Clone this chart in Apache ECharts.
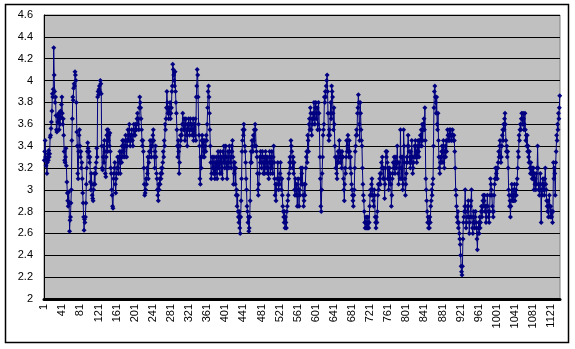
<!DOCTYPE html>
<html>
<head>
<meta charset="utf-8">
<script src="https://cdn.jsdelivr.net/npm/echarts@6/dist/echarts.min.js"></script>
<style>
html,body{margin:0;padding:0;background:#fff;}
#chart{width:575px;height:349px;}
</style>
</head>
<body>
<div id="chart"></div>
<script>
var yTicks = {min: 2, max: 4.6, step: 0.2};
var labelEvery = 40;
var values = [
3.27,3.35,3.45,3.30,3.22,3.28,3.15,3.25,3.33,3.27,
3.36,3.30,3.33,3.48,3.50,3.56,3.62,3.72,3.88,3.85,
3.92,4.30,4.05,3.90,3.80,3.85,3.68,3.55,3.53,3.67,
3.62,3.68,3.70,3.55,3.65,3.60,3.72,3.66,3.78,3.85,
3.70,3.60,3.65,3.50,3.35,3.27,3.25,3.30,3.38,3.22,
3.07,2.97,2.90,2.85,2.98,2.88,2.62,2.72,2.75,2.88,
3.00,3.45,3.65,3.85,3.82,3.93,3.97,3.95,4.08,4.05,
4.00,3.80,3.53,3.40,3.15,3.10,3.35,3.50,3.55,3.40,
3.30,3.35,3.20,3.25,3.10,2.97,2.88,2.75,2.63,2.73,
2.70,2.75,2.88,3.05,3.20,3.35,3.43,3.38,3.30,3.35,
3.25,3.30,3.07,3.00,3.15,3.05,2.95,2.92,2.90,3.00,
3.05,3.15,3.05,3.20,3.15,3.25,3.38,3.30,3.85,3.90,
3.87,3.92,3.95,3.90,4.00,3.97,3.88,3.40,3.20,3.18,
3.30,3.40,3.25,3.45,3.35,3.15,3.12,3.30,3.50,3.55,
3.35,3.55,3.45,3.50,3.40,3.52,3.35,3.20,3.15,3.00,
2.95,2.85,2.83,3.10,3.15,3.20,3.25,3.05,2.97,3.10,
3.15,3.20,3.30,3.20,3.15,3.30,3.25,3.35,3.15,3.30,
3.35,3.25,3.40,3.45,3.30,3.35,3.45,3.40,3.30,3.40,
3.50,3.45,3.30,3.40,3.45,3.55,3.45,3.50,3.60,3.45,
3.40,3.50,3.45,3.55,3.50,3.45,3.40,3.55,3.60,3.50,
3.55,3.50,3.60,3.55,3.55,3.65,3.70,3.60,3.65,3.55,
3.75,3.85,3.80,3.75,3.65,3.55,3.45,3.40,3.45,3.35,
3.20,3.05,2.95,2.97,3.00,3.10,3.05,3.20,3.15,3.30,
3.10,3.25,3.35,3.30,3.45,3.35,3.40,3.30,3.45,3.40,
3.50,3.55,3.45,3.30,3.20,3.35,3.40,3.30,3.15,3.10,
3.00,2.95,2.90,3.05,3.00,3.10,3.05,3.15,3.10,3.20,
3.15,3.20,3.25,3.35,3.30,3.45,3.40,3.60,3.55,3.65,
3.75,3.90,3.80,3.70,3.75,3.65,3.75,3.70,3.80,3.65,
3.70,3.75,3.90,3.95,4.15,4.10,4.05,4.00,3.95,4.08,
3.90,3.80,3.70,3.55,3.40,3.30,3.45,3.35,3.15,3.25,
3.40,3.50,3.45,3.55,3.50,3.60,3.70,3.60,3.55,3.65,
3.55,3.45,3.60,3.65,3.50,3.55,3.40,3.60,3.55,3.65,
3.60,3.50,3.55,3.65,3.60,3.55,3.60,3.50,3.55,3.65,
3.45,3.55,3.60,3.50,3.65,3.45,3.85,3.95,4.10,4.05,
3.85,3.60,3.50,3.40,3.10,3.05,3.30,3.20,3.45,3.50,
3.40,3.30,3.45,3.35,3.30,3.45,3.40,3.35,3.50,3.45,
3.60,3.75,3.90,3.95,3.85,3.70,3.55,3.40,3.25,3.10,
3.15,3.30,3.20,3.25,3.15,3.30,3.20,3.10,3.25,3.15,
3.30,3.20,3.10,3.25,3.35,3.20,3.30,3.25,3.15,3.35,
3.25,3.15,3.30,3.20,3.10,3.35,3.25,3.40,3.30,3.20,
3.25,3.40,3.30,3.20,3.10,3.25,3.35,3.30,3.20,3.40,
3.35,3.25,3.30,3.20,3.40,3.35,3.45,3.30,3.05,3.25,
3.15,3.25,3.05,3.20,2.95,3.00,2.85,2.95,2.80,2.75,
2.70,2.80,2.65,2.60,2.75,2.90,3.10,3.35,3.45,3.55,
3.50,3.60,3.55,3.40,3.35,3.25,3.10,3.00,2.85,2.80,
2.70,2.75,2.62,2.65,2.75,2.90,3.25,3.35,3.25,3.45,
3.40,3.35,3.50,3.45,3.55,3.40,3.60,3.55,3.40,3.35,
3.30,3.15,3.00,2.95,3.05,3.15,3.30,3.25,3.35,3.30,
3.20,3.25,3.35,3.30,3.15,3.25,3.30,3.15,3.25,3.35,
3.20,3.30,3.25,3.15,3.30,3.20,3.10,3.25,3.35,3.25,
3.15,3.30,3.20,3.35,3.25,3.15,3.30,3.40,3.25,3.10,
2.95,3.05,2.90,3.00,3.05,3.10,3.25,3.10,3.00,3.10,
3.05,3.15,3.25,3.10,3.00,3.10,2.95,2.85,2.80,2.75,
2.70,2.80,2.65,2.75,2.70,2.65,2.80,2.85,2.90,2.95,
3.10,3.15,3.25,3.30,3.20,3.45,3.40,3.35,3.25,3.20,
3.30,3.15,3.25,3.00,2.95,3.10,3.00,2.95,3.05,2.85,
2.95,3.10,3.00,2.85,3.00,2.95,3.10,3.20,3.05,3.15,
3.20,3.05,2.95,2.85,2.90,3.05,2.95,3.05,3.20,3.30,
3.35,3.25,3.50,3.45,3.35,3.60,3.65,3.55,3.75,3.70,
3.55,3.50,3.65,3.60,3.70,3.65,3.80,3.70,3.60,3.75,
3.80,3.65,3.70,3.75,3.55,3.60,3.80,3.70,3.55,3.30,
3.10,2.85,2.80,3.00,3.15,3.30,3.50,3.55,3.60,3.85,
3.80,3.90,3.85,3.95,4.00,4.05,3.90,3.70,3.50,3.45,
3.55,3.50,3.70,3.80,3.65,3.95,3.90,3.85,3.70,3.55,
3.75,3.60,3.40,3.30,3.20,3.30,3.15,3.10,3.25,3.35,
3.25,3.35,3.45,3.30,3.25,3.35,3.30,3.20,3.35,3.30,
3.30,3.10,3.00,2.90,3.05,3.20,3.15,3.30,3.45,3.35,
3.40,3.50,3.35,3.30,3.45,3.35,3.20,3.30,3.15,3.05,
3.00,2.95,2.90,2.85,2.95,3.00,3.20,3.35,3.40,3.50,
3.55,3.50,3.70,3.75,3.87,3.80,3.60,3.45,3.80,3.70,
3.55,3.45,3.40,3.20,3.05,2.95,2.90,2.80,2.70,2.65,
2.70,2.75,2.65,2.70,2.65,2.75,2.70,2.65,2.70,2.85,
2.95,3.00,2.95,3.05,3.10,3.00,2.95,2.90,2.85,3.00,
2.95,2.75,2.70,2.65,2.75,2.70,2.80,2.95,3.05,3.00,
3.05,3.10,3.15,3.05,3.15,3.25,3.20,3.30,3.20,3.10,
3.20,3.10,2.92,3.05,3.20,3.35,3.30,3.35,3.25,3.10,
3.20,3.00,3.10,3.20,3.05,3.15,3.05,2.85,2.95,3.10,
3.15,3.25,3.20,3.30,3.20,3.15,3.25,3.30,3.20,3.25,
3.40,3.25,3.15,3.05,3.25,3.20,3.10,3.55,3.30,3.20,
3.10,3.30,3.00,3.05,3.55,3.40,3.25,3.10,2.95,3.05,
3.15,3.30,3.25,3.40,3.50,3.40,3.35,3.25,3.30,3.20,
3.35,3.25,3.45,3.30,3.15,3.20,3.25,3.30,3.40,3.30,
3.45,3.30,3.35,3.25,3.40,3.30,3.45,3.35,3.30,3.45,
3.40,3.50,3.45,3.55,3.40,3.60,3.45,3.55,3.60,3.65,
3.55,3.75,3.45,3.10,3.00,2.90,2.80,2.70,2.75,2.65,
2.70,2.65,2.75,2.70,2.85,2.90,3.00,2.95,3.05,3.10,
3.40,3.75,3.90,3.95,3.85,3.80,3.70,3.85,3.60,3.55,
3.70,3.45,3.30,3.20,3.15,3.25,3.30,3.25,3.35,3.40,
3.35,3.25,3.45,3.30,3.20,3.35,3.40,3.30,3.45,3.35,
3.45,3.55,3.50,3.45,3.50,3.55,3.45,3.50,3.55,3.50,
3.45,3.50,3.55,3.50,3.45,3.50,3.45,3.35,3.20,3.00,
2.95,2.85,2.75,2.70,2.80,2.65,2.70,2.60,2.55,2.50,
2.40,2.30,2.25,2.22,2.30,2.55,2.70,2.75,2.80,2.85,
3.00,2.80,2.65,2.70,2.75,2.85,2.80,2.90,2.75,2.60,
2.70,2.75,2.85,2.90,3.00,2.75,2.65,2.60,2.70,2.80,
2.70,2.65,2.75,2.80,2.70,2.65,2.55,2.45,2.60,2.65,
2.70,2.60,2.75,2.65,2.70,2.80,2.85,2.75,2.80,2.90,
2.95,2.85,2.90,2.95,2.80,2.85,2.70,2.75,2.85,2.95,
2.85,2.80,2.75,2.70,2.80,2.95,3.10,3.05,3.00,2.95,
2.85,2.80,2.75,2.80,2.95,3.05,3.10,3.20,3.10,3.15,
3.20,3.10,3.20,3.25,3.35,3.30,3.40,3.45,3.30,3.25,
3.30,3.40,3.50,3.55,3.45,3.60,3.55,3.65,3.70,3.60,
3.45,3.35,3.40,3.30,3.35,3.20,3.00,2.95,2.85,2.90,
2.75,2.85,2.95,3.05,2.90,2.95,3.00,2.90,2.95,3.05,
2.90,2.95,3.00,2.95,3.05,3.10,3.20,3.35,3.30,3.50,
3.45,3.55,3.60,3.55,3.65,3.70,3.65,3.60,3.70,3.65,
3.55,3.60,3.70,3.55,3.45,3.50,3.40,3.50,3.35,3.40,
3.30,3.25,3.35,3.20,3.15,3.25,3.15,3.20,3.10,3.20,
3.10,3.20,3.00,3.15,3.05,3.10,3.00,3.15,3.05,3.20,
3.40,3.20,3.00,3.05,2.95,3.00,3.15,3.05,2.70,3.00,
2.95,3.05,3.10,3.00,3.05,2.95,3.10,3.20,3.05,3.00,
2.90,2.85,2.80,2.90,2.75,2.85,2.95,2.85,2.75,2.85,
2.80,2.75,2.80,2.70,2.80,3.25,3.10,3.20,3.15,2.95,
3.25,3.35,3.50,3.45,3.60,3.55,3.70,3.65,3.75,3.86
];
var categories = values.map(function (v, i) { return String(i + 1); });

var chart = echarts.init(document.getElementById('chart'), null, {renderer: 'canvas'});
var font = 'Arial, "Liberation Sans", sans-serif';
chart.setOption({
  animation: false,
  backgroundColor: '#ffffff',
  graphic: [{
    type: 'rect', silent: true, z: -1,
    shape: {x: 5.5, y: 4.5, width: 563, height: 338},
    style: {fill: 'none', stroke: '#000', lineWidth: 1.5}
  }],
  grid: {
    left: 44, top: 15, width: 516, height: 284,
    show: true, backgroundColor: '#c0c0c0', borderColor: '#808080', borderWidth: 1
  },
  xAxis: {
    type: 'category',
    data: categories,
    boundaryGap: true,
    axisLine: {show: true, lineStyle: {color: '#000', width: 3}},
    axisTick: {show: false},
    axisLabel: {
      interval: labelEvery - 1, rotate: 90, margin: 5,
      color: '#000', fontSize: 11, fontFamily: font
    },
    splitLine: {show: false}
  },
  yAxis: {
    type: 'value',
    min: yTicks.min, max: yTicks.max, interval: yTicks.step,
    axisLine: {show: true, lineStyle: {color: '#000', width: 1}},
    axisTick: {show: false},
    axisLabel: {
      margin: 11, color: '#000', fontSize: 11, fontFamily: font,
      formatter: function (v) { return String(Math.round(v * 10) / 10); }
    },
    splitLine: {show: true, lineStyle: {color: '#000', width: 1}}
  },
  series: [{
    type: 'line',
    data: values,
    symbol: 'diamond',
    symbolSize: 5,
    showAllSymbol: true,
    sampling: null,
    lineStyle: {color: '#000080', width: 1},
    itemStyle: {color: '#000080', borderWidth: 0},
    emphasis: {disabled: true}
  }]
});
</script>
</body>
</html>
